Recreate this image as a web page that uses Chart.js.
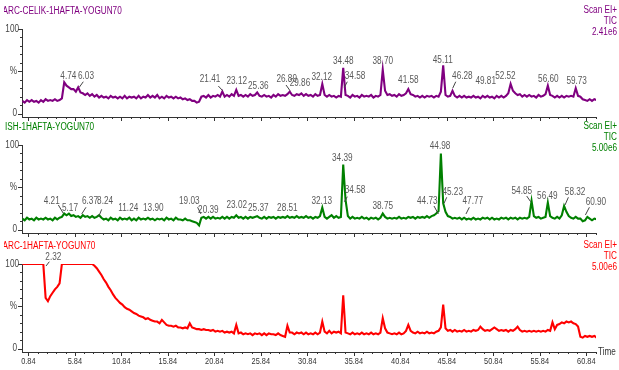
<!DOCTYPE html>
<html>
<head>
<meta charset="utf-8">
<script src="https://cdn.jsdelivr.net/npm/chart.js@4.4.1/dist/chart.umd.min.js"></script>
<style>
    html, body { margin: 0; padding: 0; background: #fff; }
    #wrap { position: relative; width: 619px; height: 370px; overflow: hidden; }
    canvas { position: absolute; left: 0; }
</style>
</head>
<body>
<div id="wrap">
    <canvas id="p1" width="619" height="122" style="top:0px"></canvas>
    <canvas id="p2" width="619" height="122" style="top:116px"></canvas>
    <canvas id="p3" width="619" height="135" style="top:235px"></canvas>
</div>
<script>
// Scans are read every 0.25 min starting at 0.2 min
const scanStart = 0.2;
const scanStep = 0.25;
const timeMin = 0.16;
const timeMax = 61.88;

const majorTimes = [0.84, 5.84, 10.84, 15.84, 20.84, 25.84, 30.84, 35.84, 40.84, 45.84, 50.84, 55.84, 60.84];
const tickLabels = ['0.84', '5.84', '10.84', '15.84', '20.84', '25.84', '30.84', '35.84', '40.84', '45.84', '50.84', '55.84', '60.84'];

// TIC, % of full scale, one row per minute
const celikTic = [
    15, 13, 16, 14,  16, 14, 15, 13,  16, 14, 17, 15,  16, 15, 17, 15,
    16, 18, 37, 33,  31, 29, 29, 26,  31, 25, 24, 22,  24, 21, 23, 20,
    22, 19, 21, 19,  20, 18, 21, 19,  20, 18, 20, 18,  21, 18, 20, 19,
    20, 18, 21, 18,  20, 19, 22, 19,  21, 19, 22, 18,  20, 18, 21, 19,
    20, 18, 20, 18,  19, 17, 18, 16,  17, 15, 15, 13,  14, 20, 21, 19,
    22, 19, 21, 20,  22, 20, 26, 20,  22, 20, 23, 21,  28, 21, 22, 20,
    22, 20, 23, 21,  22, 25, 21, 20,  22, 20, 21, 19,  22, 20, 23, 21,
    22, 21, 23, 26,  22, 21, 23, 22,  24, 21, 23, 21,  22, 20, 23, 21,
    22, 35, 22, 20,  22, 20, 21, 19,  21, 20, 54, 22,  21, 19, 22, 20,
    21, 19, 22, 20,  21, 20, 22, 19,  21, 20, 22, 52,  27, 22, 23, 21,
    22, 20, 23, 21,  22, 24, 29, 23,  22, 20, 21, 19,  21, 19, 21, 20,
    21, 19, 21, 20,  26, 57, 22, 20,  21, 27, 21, 19,  21, 19, 21, 19,
    20, 19, 21, 19,  20, 18, 21, 19,  21, 19, 20, 18,  21, 19, 21, 19,
    21, 24, 35, 27,  24, 22, 23, 20,  22, 20, 22, 20,  21, 19, 22, 20,
    21, 23, 33, 22,  21, 19, 21, 19,  21, 19, 21, 20,  21, 20, 30, 21,
    20, 17, 16, 15,  17, 15, 17, 16
];

const ishTic = [
    13, 11, 14, 12,  13, 11, 14, 12,  13, 12, 14, 12,  13, 11, 14, 12,
    14, 15, 19, 17,  19, 16, 17, 15,  16, 14, 17, 15,  16, 14, 16, 14,
    15, 17, 14, 12,  13, 11, 14, 12,  13, 11, 14, 12,  13, 12, 14, 11,
    13, 11, 14, 12,  13, 12, 14, 12,  13, 11, 13, 12,  13, 11, 14, 12,
    13, 11, 14, 12,  12, 11, 13, 11,  11, 10, 9, 8,    5, 14, 15, 13,
    15, 13, 15, 13,  14, 13, 15, 13,  15, 13, 15, 14,  17, 14, 15, 13,
    15, 13, 15, 14,  15, 16, 14, 13,  15, 13, 15, 14,  15, 13, 15, 14,
    15, 14, 16, 14,  15, 14, 16, 14,  15, 14, 16, 14,  15, 13, 15, 14,
    16, 26, 15, 13,  15, 17, 14, 16,  14, 15, 77, 35,  16, 13, 15, 13,
    14, 13, 15, 13,  14, 12, 14, 13,  14, 12, 14, 19,  15, 13, 14, 13,
    14, 13, 15, 13,  14, 13, 15, 14,  15, 13, 15, 14,  15, 14, 16, 14,
    16, 17, 19, 22,  90, 31, 21, 16,  15, 13, 14, 13,  14, 12, 14, 12,
    13, 12, 14, 12,  13, 12, 14, 13,  14, 12, 14, 12,  13, 12, 14, 13,
    14, 12, 14, 13,  14, 12, 14, 13,  14, 13, 15, 34,  16, 14, 15, 13,
    14, 15, 32, 16,  14, 13, 15, 13,  17, 28, 21, 16,  14, 13, 15, 13,
    13, 10, 11, 15,  13, 11, 13, 12
];

const arcTic = [
    100, 100, 100, 100,  100, 100, 100, 100,  100, 100, 60, 56,  62, 66, 70, 73,
    77, 100, 100, 100,   100, 100, 100, 100,  100, 100, 100, 100,  100, 100, 100, 98,
    95, 91, 87, 82,      78, 73, 69, 64,      60, 57, 54, 52,      49, 47, 46, 44,
    42, 41, 39, 38,      37, 35, 36, 34,      33, 32, 32, 30,      34, 31, 28, 27,
    27, 26, 27, 25,      25, 24, 25, 24,      30, 25, 24, 23,      23, 22, 23, 22,
    22, 21, 22, 20,      21, 20, 21, 19,      20, 19, 20, 18,      28, 18, 19, 17,
    18, 17, 18, 16,      18, 17, 18, 16,      18, 16, 18, 17,      17, 16, 18, 16,
    15, 14, 27, 19,      19, 17, 19, 18,      19, 17, 19, 17,      18, 17, 19, 17,
    19, 32, 20, 18,      21, 18, 20, 19,      20, 18, 63, 19,      18, 17, 19, 17,
    18, 17, 19, 17,      18, 17, 19, 17,      18, 17, 19, 36,      24, 19, 18, 17,
    18, 17, 19, 17,      18, 21, 28, 21,      19, 18, 20, 18,      19, 18, 20, 18,
    19, 18, 20, 21,      25, 52, 24, 21,      22, 20, 22, 20,      21, 20, 22, 20,
    21, 20, 22, 21,      22, 26, 23, 21,      22, 21, 23, 25,      23, 21, 22, 21,
    22, 20, 22, 21,      23, 26, 22, 20,      21, 20, 21, 20,      21, 20, 21, 20,
    21, 20, 22, 21,      31, 23, 28, 29,      31, 30, 32, 31,      32, 30, 29, 26,
    14, 13, 15, 14,      15, 14, 15, 13
];

// Peak labels: [text, time, %] plus optional leader line [t1, %1, t2, %2]
const celikPeaks = [
    ['4.74', 5.14, 43.6],
    ['6.03', 7.04, 43.6, 6.75, 37.7, 6.32, 31.1],
    ['21.41', 20.38, 40.9, 21.27, 32.6, 21.74, 27.1],
    ['23.12', 23.25, 37.7],
    ['25.36', 25.57, 32.6],
    ['26.89', 28.62, 40.5, 28.55, 33.8, 28.98, 27.1],
    ['29.86', 30.05, 35.8],
    ['32.12', 32.39, 42.9],
    ['34.48', 34.71, 62.2],
    ['34.58', 35.97, 43.6, 35.14, 37.7, 34.82, 31.1],
    ['38.70', 38.95, 61.4],
    ['41.58', 41.7, 39.7],
    ['45.11', 45.4, 62.5],
    ['46.28', 47.51, 44.5, 46.8, 37.7, 46.47, 30],
    ['49.81', 50.02, 37.7],
    ['52.52', 52.14, 43.6],
    ['56.60', 56.76, 40.5],
    ['59.73', 59.8, 38.5]
];

const ishPeaks = [
    ['4.21', 3.36, 33.8, 4.07, 29.1, 4.6, 19.3],
    ['5.17', 5.32, 25.2],
    ['6.37', 7.47, 33, 7.04, 26.4, 6.58, 18.5],
    ['8.24', 9.09, 33, 8.73, 24, 8.41, 15.3],
    ['11.24', 11.59, 25.2],
    ['13.90', 14.28, 25.2],
    ['19.03', 18.15, 33],
    ['20.39', 20.2, 23.2, 19.04, 26.4, 19.4, 18.5],
    ['23.02', 23.25, 29.1],
    ['25.37', 25.57, 25.2],
    ['28.51', 28.69, 25.2],
    ['32.13', 32.39, 33.8],
    ['34.39', 34.6, 84.3],
    ['34.58', 35.97, 46.8, 35.14, 38.9, 34.82, 33],
    ['38.75', 38.95, 27.9],
    ['44.73', 43.74, 33.8, 44.46, 27.9, 44.93, 18.5],
    ['44.98', 45.11, 98],
    ['45.23', 46.47, 43.6, 45.83, 38.2, 45.54, 31.1],
    ['47.77', 48.63, 33, 48.26, 26.4, 47.9, 18.5],
    ['54.85', 53.9, 45.6, 54.43, 39.7, 54.85, 33],
    ['56.49', 56.65, 39.7],
    ['58.32', 59.63, 43.6, 58.91, 38.2, 58.55, 29.1],
    ['60.90', 61.87, 31.8, 61.17, 26.4, 60.74, 17.3]
];

const arcPeaks = [
    ['2.32', 3.53, 107.9, 3.1, 102.7, 2.74, 97.6]
];

const FONT = '"Liberation Sans", Arial, sans-serif';
const SQUEEZE = 0.82; // the instrument software uses a narrow face

const panels = [
    { id: 'p1', title: 'ARC-CELIK-1HAFTA-YOGUN70', titleX: 2.5, color: '#800080', fullScale: '2.41e6',
      values: celikTic, peaks: celikPeaks, axisHeight: 5, showTime: false },
    { id: 'p2', title: 'ISH-1HAFTA-YOGUN70', titleX: 5, color: '#008000', fullScale: '5.00e6',
      values: ishTic, peaks: ishPeaks, axisHeight: 5, showTime: false },
    { id: 'p3', title: 'ARC-1HAFTA-YOGUN70', titleX: 2.5, color: '#ff0000', fullScale: '5.00e6',
      values: arcTic, peaks: arcPeaks, axisHeight: 18, showTime: true }
];

function buildPoints(values) {
    return values.map((v, i) => ({ x: scanStart + i * scanStep, y: v }));
}

function narrowText(ctx, text, x, y, align) {
    ctx.save();
    ctx.translate(x, y);
    ctx.scale(SQUEEZE, 1);
    ctx.textAlign = align;
    ctx.fillText(text, 0, 0);
    ctx.restore();
}

// Ticks, labels and header text drawn on top of each panel
function chromPlugin(panel) {
    return {
        id: 'chromText',
        afterDraw(chart) {
            const { ctx, scales: { x, y } } = chart;
            ctx.save();
            ctx.strokeStyle = '#333';
            ctx.lineWidth = 1;

            // time ticks every minute, longer every 5
            ctx.beginPath();
            for (let k = 0; 0.84 + k <= timeMax; k++) {
                const px = Math.round(x.getPixelForValue(0.84 + k)) + 0.5;
                const len = k % 5 === 0 ? 4 : 2;
                ctx.moveTo(px, x.top);
                ctx.lineTo(px, x.top + len);
            }
            // intensity ticks every 10 %
            for (let v = 0; v <= 100; v += 10) {
                const py = Math.round(y.getPixelForValue(v)) + 0.5;
                const len = v % 50 === 0 ? 4 : 2;
                ctx.moveTo(y.right - len, py);
                ctx.lineTo(y.right, py);
            }
            ctx.stroke();

            ctx.textBaseline = 'middle';

            // axis labels
            ctx.font = '10px ' + FONT;
            ctx.fillStyle = '#444';
            narrowText(ctx, '100', y.right - 3, y.getPixelForValue(100), 'right');
            narrowText(ctx, '%', y.right - 5, y.getPixelForValue(50), 'right');
            narrowText(ctx, '0', y.right - 5, y.getPixelForValue(0), 'right');
            if (panel.showTime) {
                ctx.font = '9px ' + FONT;
                ctx.fillStyle = '#333';
                majorTimes.forEach((t, i) => {
                    narrowText(ctx, tickLabels[i], x.getPixelForValue(t), x.top + 10, 'center');
                });
                ctx.font = '10px ' + FONT;
                narrowText(ctx, 'Time', 598, x.top, 'left');
            }

            // peak labels
            ctx.font = '10px ' + FONT;
            ctx.fillStyle = '#5a5a5a';
            ctx.strokeStyle = '#444';
            panel.peaks.forEach(p => {
                narrowText(ctx, p[0], x.getPixelForValue(p[1]), y.getPixelForValue(p[2]), 'center');
                if (p.length > 3) {
                    ctx.beginPath();
                    ctx.moveTo(x.getPixelForValue(p[3]), y.getPixelForValue(p[4]));
                    ctx.lineTo(x.getPixelForValue(p[5]), y.getPixelForValue(p[6]));
                    ctx.stroke();
                }
            });

            // header
            ctx.fillStyle = panel.color;
            narrowText(ctx, 'Scan EI+', 617, 10, 'right');
            narrowText(ctx, 'TIC', 617, 21, 'right');
            narrowText(ctx, panel.fullScale, 617, 32, 'right');

            ctx.save();
            ctx.beginPath();
            ctx.rect(4, 0, 300, 20);
            ctx.clip();
            narrowText(ctx, panel.title, panel.titleX, 11, 'left');
            ctx.restore();

            ctx.restore();
        }
    };
}

panels.forEach(panel => {
    new Chart(document.getElementById(panel.id), {
        type: 'line',
        data: {
            datasets: [{
                data: buildPoints(panel.values),
                borderColor: panel.color,
                borderWidth: 2.1,
                pointRadius: 0,
                tension: 0,
                fill: false
            }]
        },
        options: {
            responsive: false,
            animation: false,
            devicePixelRatio: 1,
            layout: { padding: { top: 29, right: 23, left: 0, bottom: 0 } },
            plugins: {
                legend: { display: false },
                tooltip: { enabled: false }
            },
            scales: {
                x: {
                    type: 'linear',
                    min: timeMin,
                    max: timeMax,
                    afterBuildTicks: s => { s.ticks = majorTimes.map(v => ({ value: v })); },
                    afterFit: s => { s.height = panel.axisHeight; },
                    ticks: { display: false },
                    grid: { display: false, drawTicks: false },
                    border: { display: true, color: '#333', width: 1 }
                },
                y: {
                    min: -4,
                    max: 100,
                    afterBuildTicks: s => { s.ticks = [0, 50, 100].map(v => ({ value: v })); },
                    afterFit: s => { s.width = 22; },
                    ticks: { display: false },
                    grid: { display: false, drawTicks: false },
                    border: { display: true, color: '#333', width: 1 }
                }
            }
        },
        plugins: [chromPlugin(panel)]
    });
});
</script>
</body>
</html>
